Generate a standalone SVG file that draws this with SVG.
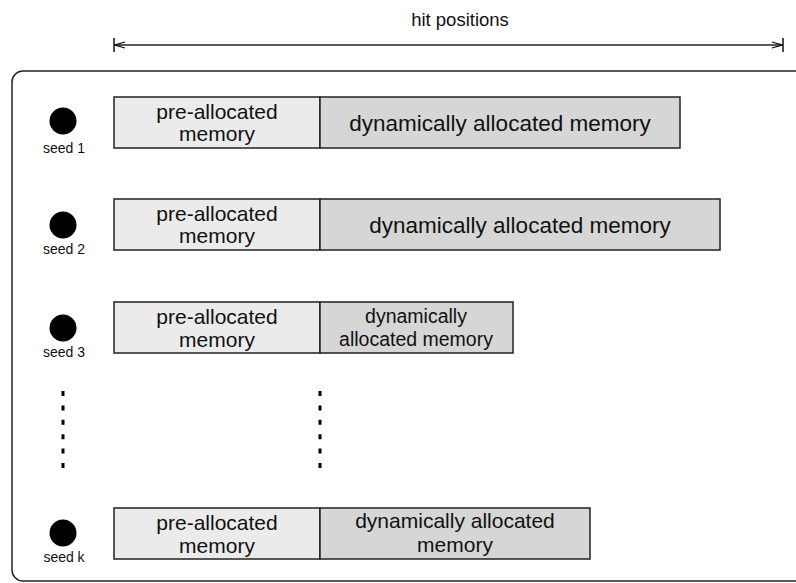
<svg xmlns="http://www.w3.org/2000/svg" width="796" height="583" viewBox="0 0 796 583">
  <style>
    text { font-family: "Liberation Sans", Arial, sans-serif; fill: #111; text-anchor: middle; }
    .pre { fill: #ebebeb; stroke: #222; stroke-width: 1.5; }
    .dyn { fill: #d6d6d6; stroke: #222; stroke-width: 1.5; }
    .seed { fill: #000; }
    .lbl { font-size: 21px; }
    .big { font-size: 22.5px; }
    .small { font-size: 14px; }
    .dots { stroke: #000; stroke-width: 3; stroke-dasharray: 5 9.4; fill: none; }
  </style>
  <defs>
    <marker id="head" markerWidth="12" markerHeight="10" refX="11" refY="5" orient="auto-start-reverse" markerUnits="userSpaceOnUse">
      <path d="M1,2 L11,5 L1,8" fill="none" stroke="#111" stroke-width="1.3"/>
    </marker>
  </defs>
  <rect width="796" height="583" fill="#fff"/>

  <!-- outer frame -->
  <rect x="12" y="71" width="800" height="510" rx="11" fill="none" stroke="#222" stroke-width="1.5"/>

  <!-- hit positions span -->
  <g id="connectors">
    <line x1="115" y1="45" x2="782" y2="45" stroke="#222" stroke-width="1.3" marker-start="url(#head)" marker-end="url(#head)"/>
    <line x1="114" y1="38" x2="114" y2="52" stroke="#111" stroke-width="1.5"/>
    <line x1="783" y1="38" x2="783" y2="52" stroke="#111" stroke-width="1.5"/>
  </g>
  <text x="460" y="26" font-size="18.5">hit positions</text>

  <!-- seed 1 -->
  <g id="seed1">
    <circle cx="63" cy="121" r="13.5" class="seed"/>
    <text x="64" y="153" class="small">seed 1</text>
    <rect x="114" y="97" width="206" height="51" class="pre"/>
    <rect x="320" y="97" width="360" height="51" class="dyn"/>
    <text x="217" y="119" class="lbl">pre-allocated</text>
    <text x="217" y="141" class="lbl">memory</text>
    <text x="500" y="131" class="big">dynamically allocated memory</text>
  </g>

  <!-- seed 2 -->
  <g id="seed2">
    <circle cx="63" cy="225" r="13.5" class="seed"/>
    <text x="64" y="254" class="small">seed 2</text>
    <rect x="114" y="199" width="206" height="51" class="pre"/>
    <rect x="320" y="199" width="400" height="51" class="dyn"/>
    <text x="217" y="221" class="lbl">pre-allocated</text>
    <text x="217" y="243" class="lbl">memory</text>
    <text x="520" y="233" class="big">dynamically allocated memory</text>
  </g>

  <!-- seed 3 -->
  <g id="seed3">
    <circle cx="63" cy="328" r="13.5" class="seed"/>
    <text x="64" y="357" class="small">seed 3</text>
    <rect x="114" y="302" width="206" height="51" class="pre"/>
    <rect x="320" y="302" width="193" height="51" class="dyn"/>
    <text x="217" y="324" class="lbl">pre-allocated</text>
    <text x="217" y="347" class="lbl">memory</text>
    <text x="416" y="323" font-size="19.5">dynamically</text>
    <text x="416" y="346" font-size="19.5">allocated memory</text>
  </g>

  <!-- continuation dots -->
  <g id="ellipsis">
    <line x1="63" y1="391" x2="63" y2="468" class="dots"/>
    <line x1="320" y1="391" x2="320" y2="468" class="dots"/>
  </g>

  <!-- seed k -->
  <g id="seedk">
    <circle cx="63" cy="533" r="13.5" class="seed"/>
    <text x="64" y="562" class="small">seed k</text>
    <rect x="114" y="508" width="206" height="51" class="pre"/>
    <rect x="320" y="508" width="270" height="51" class="dyn"/>
    <text x="217" y="530" class="lbl">pre-allocated</text>
    <text x="217" y="553" class="lbl">memory</text>
    <text x="455" y="528" class="lbl">dynamically allocated</text>
    <text x="455" y="552" class="lbl">memory</text>
  </g>
</svg>
